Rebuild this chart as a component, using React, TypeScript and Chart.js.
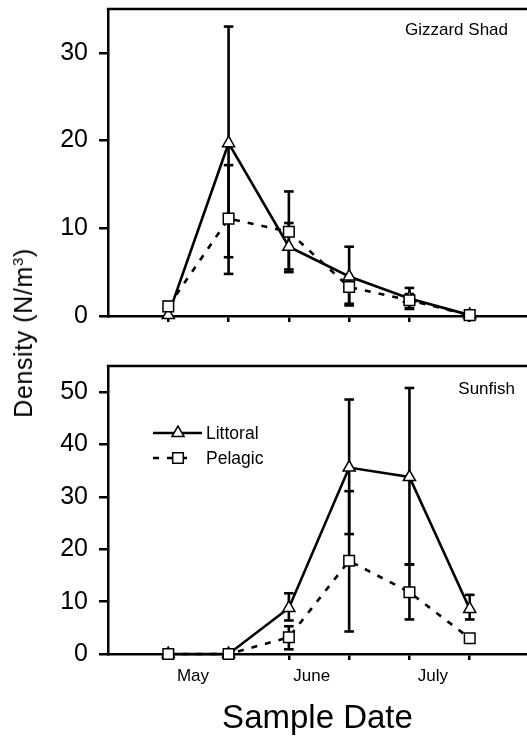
import React, { useEffect, useRef } from 'react';
import { Chart, registerables } from 'chart.js';

Chart.register(...registerables);
Chart.defaults.font.family = '"Liberation Sans", Arial, Helvetica, sans-serif';
Chart.defaults.color = '#000';

// ---- data ----
const sampleIndex = [0, 1, 2, 3, 4, 5];
const monthLabels = ['May', 'June', 'July'];
const monthTickPositions = [0.41, 2.38, 4.39];
const seriesNames = ['Littoral', 'Pelagic'];
const panelNames = ['Gizzard Shad', 'Sunfish'];

const shadTicks = [0, 10, 20, 30];
const sunfishTicks = [0, 10, 20, 30, 40, 50];

const shadLittoral = [0.1, 19.7, 7.9, 4.5, 2.0, 0.1];
const shadLittoralLow = [null, 6.7, 5.3, 1.4, 0.9, null];
const shadLittoralHigh = [null, 33.0, 14.2, 7.9, 3.2, null];
const shadPelagic = [1.1, 11.1, 9.6, 3.3, 1.8, 0.1];
const shadPelagicLow = [0.6, 4.8, 5.0, 1.2, 0.8, null];
const shadPelagicHigh = [1.6, 17.2, 10.6, 4.2, 2.5, null];

const sunLittoral = [0, 0, 8.8, 35.6, 33.8, 8.6];
const sunLittoralLow = [null, null, 6.4, 22.9, 17.1, 6.6];
const sunLittoralHigh = [null, null, 11.6, 48.6, 50.8, 11.3];
const sunPelagic = [0, 0, 3.2, 17.8, 11.8, 3.0];
const sunPelagicLow = [null, null, 0.9, 4.3, 6.6, null];
const sunPelagicHigh = [null, null, 5.3, 31.1, 17.1, null];

function drawMarker(ctx: CanvasRenderingContext2D, style: string, x: number, y: number, r: number) {
  ctx.beginPath();
  if (style === 'triangle') {
    ctx.moveTo(x, y - r);
    ctx.lineTo(x + r * Math.sin((2 * Math.PI) / 3), y + r / 2);
    ctx.lineTo(x - r * Math.sin((2 * Math.PI) / 3), y + r / 2);
    ctx.closePath();
  } else {
    const s = r * Math.SQRT1_2;
    ctx.rect(x - s, y - s, 2 * s, 2 * s);
  }
  ctx.fillStyle = '#fff';
  ctx.fill();
  ctx.lineWidth = 1.5;
  ctx.strokeStyle = '#000';
  ctx.stroke();
}

const decorPlugin = {
  id: 'panelDecor',
  beforeDatasetsDraw(chart: any) {
    const { ctx } = chart;
    const xs = chart.scales.x;
    const ys = chart.scales.y;
    ctx.save();
    ctx.strokeStyle = '#000';
    ctx.lineWidth = 2.6;
    chart.data.datasets.forEach((ds: any) => {
      const lows = ds.errLow;
      const highs = ds.errHigh;
      if (!lows) return;
      ds.data.forEach((pt: any, i: number) => {
        const lo = lows[i];
        const hi = highs[i];
        if (lo == null && hi == null) return;
        const px = xs.getPixelForValue(pt.x);
        const yLo = ys.getPixelForValue(lo ?? pt.y);
        const yHi = ys.getPixelForValue(hi ?? pt.y);
        ctx.beginPath();
        ctx.moveTo(px, yLo);
        ctx.lineTo(px, yHi);
        ctx.stroke();
        [lo, hi].forEach((v) => {
          if (v == null) return;
          const py = ys.getPixelForValue(v);
          ctx.beginPath();
          ctx.moveTo(px - 4.8, py);
          ctx.lineTo(px + 4.8, py);
          ctx.stroke();
        });
      });
    });
    ctx.restore();
  },
  afterDraw(chart: any, _args: any, opts: any) {
    const { ctx, chartArea: a } = chart;
    ctx.save();
    ctx.strokeStyle = '#000';
    ctx.lineWidth = 2.5;
    ctx.beginPath();
    ctx.moveTo(a.left - 1.25, a.top);
    ctx.lineTo(a.right, a.top);
    ctx.stroke();

    ctx.fillStyle = '#000';
    ctx.font = '17px "Liberation Sans", Arial, sans-serif';
    ctx.textAlign = 'right';
    ctx.textBaseline = 'alphabetic';
    ctx.fillText(opts.label, a.right - opts.labelInset, a.top + opts.labelDrop);

    if (opts.legend) {
      const dss = chart.data.datasets;
      const rows = [
        { ds: dss[0], y: a.top + 67, x2: a.left + 94 },
        { ds: dss[1], y: a.top + 92, x2: a.left + 86 },
      ];
      rows.forEach((row) => {
        ctx.save();
        ctx.strokeStyle = '#000';
        ctx.lineWidth = 2.5;
        ctx.setLineDash(row.ds.borderDash || []);
        ctx.beginPath();
        ctx.moveTo(a.left + 45, row.y);
        ctx.lineTo(row.x2, row.y);
        ctx.stroke();
        ctx.setLineDash([]);
        drawMarker(ctx, row.ds.pointStyle, a.left + 70, row.y, row.ds.pointRadius);
        ctx.fillStyle = '#000';
        ctx.font = '17.5px "Liberation Sans", Arial, sans-serif';
        ctx.textAlign = 'left';
        ctx.textBaseline = 'middle';
        ctx.fillText(row.ds.label, a.left + 98, row.y + 1);
        ctx.restore();
      });
    }
    ctx.restore();
  },
};

function makeDatasets(lit: number[], litLo: any[], litHi: any[], pel: number[], pelLo: any[], pelHi: any[]) {
  return [
    {
      label: seriesNames[0],
      data: sampleIndex.map((x, i) => ({ x, y: lit[i] })),
      borderColor: '#000',
      borderWidth: 2.6,
      pointStyle: 'triangle',
      pointRadius: 7,
      pointBorderWidth: 1.5,
      pointBackgroundColor: '#fff',
      pointBorderColor: '#000',
      tension: 0,
      order: 2,
      clip: false,
      errLow: litLo,
      errHigh: litHi,
    },
    {
      label: seriesNames[1],
      data: sampleIndex.map((x, i) => ({ x, y: pel[i] })),
      borderColor: '#000',
      borderWidth: 2.6,
      borderDash: [6, 8],
      pointStyle: 'rect',
      pointRadius: 7.5,
      pointBorderWidth: 1.5,
      pointBackgroundColor: '#fff',
      pointBorderColor: '#000',
      tension: 0,
      order: 1,
      clip: false,
      errLow: pelLo,
      errHigh: pelHi,
    },
  ];
}

function yScale(max: number, ticks: number[]) {
  return {
    min: 0,
    max,
    afterBuildTicks: (s: any) => {
      s.ticks = ticks.map((v) => ({ value: v }));
    },
    afterFit: (s: any) => {
      s.width = 108;
    },
    ticks: { color: '#000', font: { size: 25 }, padding: 11 },
    grid: { drawOnChartArea: false, tickLength: 9, color: '#000', lineWidth: 2.5 },
    border: { color: '#000', width: 2.5 },
  };
}

function xScale() {
  return {
    type: 'linear',
    position: 'bottom',
    weight: 0,
    min: -1,
    max: 5.95,
    afterBuildTicks: (s: any) => {
      s.ticks = sampleIndex.map((v) => ({ value: v }));
    },
    ticks: { display: false },
    grid: { drawOnChartArea: false, tickLength: 6, color: '#000', lineWidth: 2.5 },
    border: { color: '#000', width: 2.5 },
  };
}

export default function App() {
  const topRef = useRef<HTMLCanvasElement>(null);
  const botRef = useRef<HTMLCanvasElement>(null);

  useEffect(() => {
    const c1 = new Chart(topRef.current as HTMLCanvasElement, {
      type: 'line',
      data: {
        datasets: makeDatasets(shadLittoral, shadLittoralLow, shadLittoralHigh, shadPelagic, shadPelagicLow, shadPelagicHigh) as any,
      },
      options: {
        responsive: false,
        animation: false,
        devicePixelRatio: 1,
        layout: { autoPadding: false, padding: { top: 30, bottom: 24, left: 0, right: 0 } },
        plugins: {
          legend: { display: false },
          tooltip: { enabled: false },
          panelDecor: { label: panelNames[0], labelInset: 19, labelDrop: 26, legend: false },
        } as any,
        scales: {
          x: xScale() as any,
          y: yScale(35, shadTicks) as any,
        },
      },
      plugins: [decorPlugin],
    });

    const c2 = new Chart(botRef.current as HTMLCanvasElement, {
      type: 'line',
      data: {
        datasets: makeDatasets(sunLittoral, sunLittoralLow, sunLittoralHigh, sunPelagic, sunPelagicLow, sunPelagicHigh) as any,
      },
      options: {
        responsive: false,
        animation: false,
        devicePixelRatio: 1,
        layout: { autoPadding: false, padding: { top: 36, bottom: 0, left: 0, right: 0 } },
        plugins: {
          legend: { display: false },
          tooltip: { enabled: false },
          panelDecor: { label: panelNames[1], labelInset: 12, labelDrop: 28, legend: true },
        } as any,
        scales: {
          x: xScale() as any,
          x2: {
            type: 'linear',
            position: 'bottom',
            weight: 1,
            min: -1,
            max: 5.95,
            afterBuildTicks: (s: any) => {
              s.ticks = monthTickPositions.map((v) => ({ value: v }));
            },
            ticks: {
              callback: (_v: any, i: number) => monthLabels[i],
              color: '#000',
              font: { size: 17 },
              padding: 6,
              autoSkip: false,
              maxRotation: 0,
            },
            grid: { display: false, drawTicks: false },
            border: { display: false },
            title: {
              display: true,
              text: 'Sample Date',
              color: '#000',
              font: { size: 33 },
              padding: { top: 7, bottom: 2 },
            },
          } as any,
          y: yScale(55, sunfishTicks) as any,
        },
      },
      plugins: [decorPlugin],
    });

    return () => {
      c1.destroy();
      c2.destroy();
    };
  }, []);

  return (
    <div style={{ position: 'absolute', left: 0, top: 0, width: 527, height: 741, overflow: 'hidden', background: '#fff' }}>
      <canvas ref={topRef} width={527} height={367} style={{ position: 'absolute', left: 0, top: -21 }} />
      <canvas ref={botRef} width={527} height={411} style={{ position: 'absolute', left: 0, top: 330 }} />
      <div
        style={{
          position: 'absolute',
          left: 23,
          top: 333,
          transform: 'translate(-50%, -50%) rotate(-90deg)',
          whiteSpace: 'nowrap',
          fontFamily: '"Liberation Sans", Arial, sans-serif',
          fontSize: 25,
          letterSpacing: '0.6px',
          lineHeight: '26px',
          color: '#000',
        }}
      >
        Density (N/m<sup style={{ fontSize: 15, lineHeight: 0 }}>3</sup>)
      </div>
    </div>
  );
}
